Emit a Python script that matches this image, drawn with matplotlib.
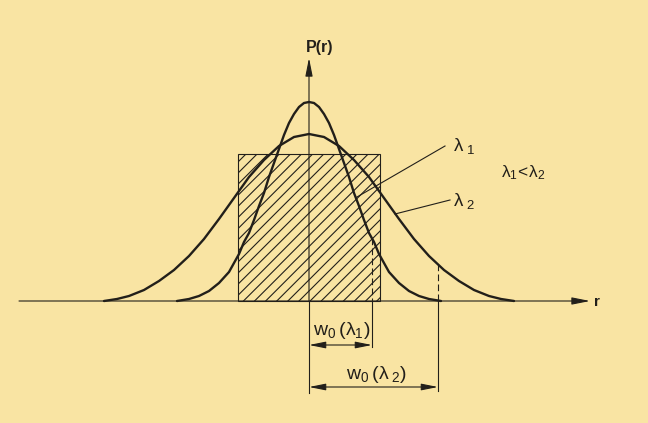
import numpy as np
import matplotlib.pyplot as plt
from matplotlib.patches import Rectangle

plt.rcParams['font.family'] = ['Liberation Sans', 'DejaVu Sans']
plt.rcParams['mathtext.fontset'] = 'custom'
plt.rcParams['mathtext.rm'] = 'Liberation Sans'
plt.rcParams['hatch.linewidth'] = 0.8

# narrow curve (lambda 1): half profile, r offset from centre and height
r1 = [0, 5, 10, 15, 20, 25, 30, 35, 40, 45, 50, 55, 60, 65, 70, 80, 90, 100, 110, 120, 132]
h1 = [199, 198, 194, 187, 178, 166, 152, 138, 124, 108, 95, 81, 68, 59, 47, 29, 18, 10, 5, 2, 0]

# wide curve (lambda 2)
r2 = [0, 15, 30, 45, 60, 75, 90, 105, 120, 135, 150, 165, 180, 192, 205]
h2 = [167, 164, 155, 141, 124, 103, 82, 62, 45, 31, 20, 11, 5, 2, 0]

# top-hat
rect_half = 71
rect_height = 147

# beam widths w0
w0_1 = 63
w0_2 = 129

BG = '#f9e4a3'
INK = '#221f1a'


def mirror(r, h):
    r = np.asarray(r, dtype=float)
    h = np.asarray(h, dtype=float)
    return np.concatenate([-r[::-1], r[1:]]), np.concatenate([h[::-1], h[1:]])


fig = plt.figure(figsize=(6.48, 4.23), dpi=100, facecolor=BG)
ax = fig.add_axes([0, 0, 1, 1])
ax.set_facecolor(BG)
ax.set_xlim(-309, 339)
ax.set_ylim(-122, 301)
ax.axis('off')

# hatched rectangle
ax.add_patch(Rectangle((-rect_half, 0), 2 * rect_half, rect_height, fill=False,
                       hatch='///', edgecolor=INK, lw=0.8, zorder=2))

# curves
x, y = mirror(r1, h1)
ax.plot(x, y, color=INK, lw=1.7, solid_capstyle='round', zorder=4)
x, y = mirror(r2, h2)
ax.plot(x, y, color=INK, lw=1.7, solid_capstyle='round', zorder=4)

# axes with arrows
arrow = dict(arrowstyle='-|>,head_length=1.1,head_width=0.22', color=INK, lw=0.8,
             shrinkA=0, shrinkB=0, mutation_scale=10)
ax.annotate('', xy=(281, 0), xytext=(-290, 0), arrowprops=arrow, zorder=3)
ax.annotate('', xy=(0, 243), xytext=(0, 0), arrowprops=arrow, zorder=3)
ax.text(285, -1, 'r', fontsize=11, fontweight='bold', color=INK, va='center', ha='left')
ax.text(11, 254, 'P(r)', fontsize=11.5, fontweight='bold', color=INK, va='center', ha='center')

# w0 markers: dashed above axis, solid extension below
h1_at = np.interp(w0_1, r1, h1)
h2_at = np.interp(w0_2, r2, h2)
ax.plot([w0_1, w0_1], [h1_at, 0], color=INK, lw=0.8, ls=(0, (6, 3)), zorder=3)
ax.plot([w0_2, w0_2], [h2_at, 0], color=INK, lw=0.8, ls=(0, (6, 3)), zorder=3)
ax.plot([w0_1, w0_1], [0, -46], color=INK, lw=0.8)
ax.plot([w0_2, w0_2], [0, -90], color=INK, lw=0.8)
ax.plot([0, 0], [0, -92], color=INK, lw=0.8)

dim = dict(arrowstyle='<|-|>,head_length=1.0,head_width=0.2', color=INK, lw=0.8,
           shrinkA=0, shrinkB=0, mutation_scale=10)
ax.annotate('', xy=(0, -44), xytext=(w0_1, -44), arrowprops=dim)
ax.annotate('', xy=(0, -86), xytext=(w0_2, -86), arrowprops=dim)
ax.text(w0_1 / 2 + 1, -29, r'$\mathregular{w_0\,(\lambda_1)}$', fontsize=14, color=INK,
        ha='center', va='center')
ax.text(w0_2 / 2 + 3, -73, r'$\mathregular{w_0\,(\lambda_{\;2})}$', fontsize=14, color=INK,
        ha='center', va='center')

# leaders and labels
ax.plot([136, 48], [155, 104], color=INK, lw=0.8)
ax.plot([141, 86], [101, 87], color=INK, lw=0.8)
ax.text(144, 155, r'$\mathregular{\lambda_{\;1}}$', fontsize=13.5, color=INK, va='center', ha='left')
ax.text(144, 100, r'$\mathregular{\lambda_{\;2}}$', fontsize=13.5, color=INK, va='center', ha='left')
ax.text(214, 128, r'$\mathregular{\lambda_1\!<\!\lambda_2}$', fontsize=12.5, color=INK,
        va='center', ha='center')

fig.savefig('out.png', dpi=100, facecolor=BG)
